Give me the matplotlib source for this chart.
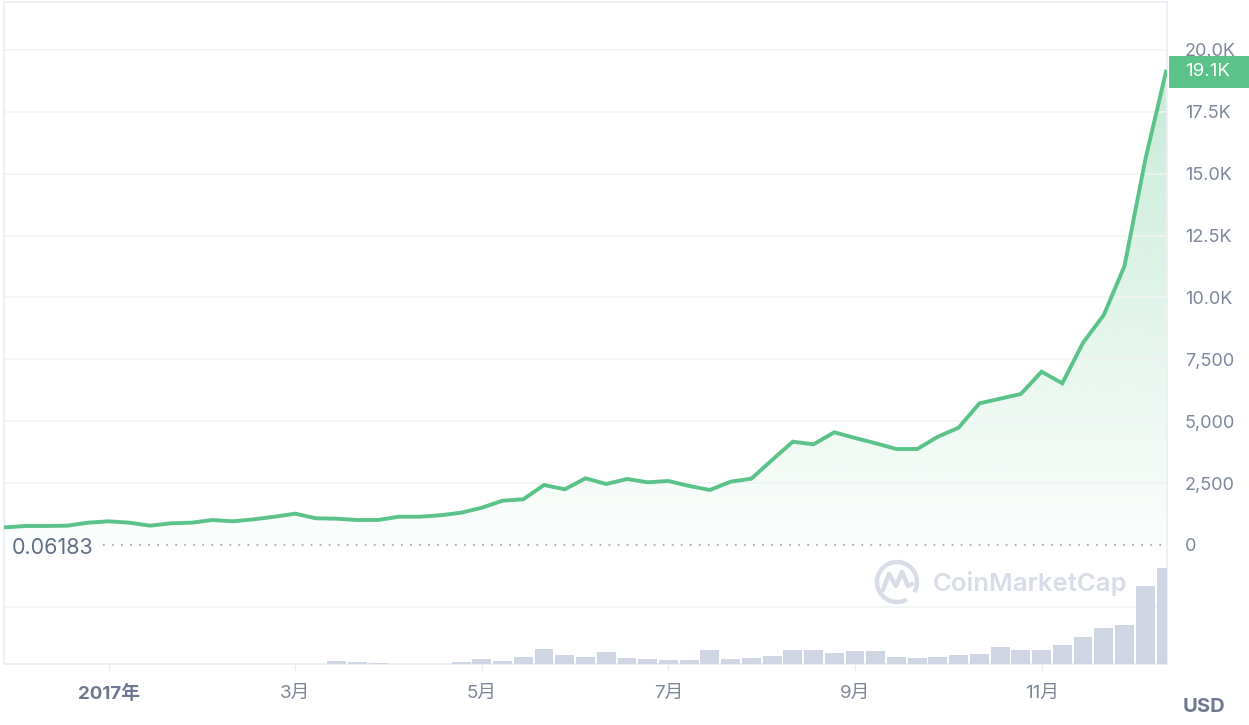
import numpy as np
import matplotlib
matplotlib.use("Agg")
import matplotlib.pyplot as plt
from matplotlib.patches import Rectangle, Arc
from matplotlib.ticker import FuncFormatter
import matplotlib.transforms as mtransforms

# weekly BTC price (USD)
price = [
    715, 768, 768, 780, 901, 957, 901, 780, 877, 901,
    1010, 957, 1038, 1143, 1265, 1078, 1063, 1010, 1010, 1143,
    1143, 1200, 1305, 1507, 1790, 1846, 2424, 2250, 2695, 2464,
    2666, 2533, 2586, 2384, 2222, 2557, 2679, 3434, 4173, 4068,
    4553, 4324, 4108, 3878, 3878, 4375, 4740, 5723, 5911, 6100,
    7001, 6533, 8173, 9292, 11272, 15554, 19122,
]
# weekly volume, relative units (no scale shown on the chart)
volume = [
    0, 0, 0, 0, 0, 0, 0, 0, 0, 0,
    0, 0, 0, 0, 0, 0, 3, 2, 1, 0,
    0, 0, 2, 4.8, 3, 6.7, 14.7, 9.2, 6.7, 12,
    5.7, 4.8, 4, 4, 14, 4.8, 5.7, 8.3, 14, 14,
    11.3, 13, 13, 6.7, 5.7, 6.7, 9.3, 10.3, 16.7, 14,
    14, 19.3, 26.7, 36.3, 39.3, 78.3, 96.3,
]
x_labels = ["2017年", "3月", "5月", "7月", "9月", "11月"]
price_ticks = [-2500, 0, 2500, 5000, 7500, 10000, 12500, 15000, 17500, 20000]
low_label = "0.06183"
last_label = "19.1K"

GREEN = "#5BC389"
GRID = "#F1F3F6"
BORDER = "#E9ECF1"
TEXT = "#7D879B"
CJK = ["Inter", "Noto Sans CJK SC", "DejaVu Sans"]

plt.rcParams["font.family"] = CJK

fig = plt.figure(figsize=(12.49, 7.25), dpi=100)
W, H = 1249, 725
left, right, top, bottom = 4, 1167, 2, 664
rect = [left / W, 1 - bottom / H, (right - left) / W, (bottom - top) / H]
ax = fig.add_axes(rect)

x = np.arange(len(price))

# price line with a vertical green gradient underneath
fb = ax.fill_between(x, price, 0, facecolor="none", edgecolor="none")
grad = np.linspace(0.02, 0.34, 256)[:, None]
rgba = np.zeros((256, 1, 4))
rgba[..., :3] = matplotlib.colors.to_rgb(GREEN)
rgba[..., 3] = grad
im = ax.imshow(rgba, extent=(0, len(price) - 1, 0, max(price)), origin="lower",
               aspect="auto", zorder=1, interpolation="bilinear")
im.set_clip_path(fb.get_paths()[0], ax.transData)
ax.plot(x, price, color=GREEN, lw=2.8, zorder=3, solid_joinstyle="miter")
ax.set_xlim(-0.05, len(price) - 0.95)
ax.set_ylim(-4808, 21937)


def fmt(v, pos):
    if v < 0:
        return ""
    if v >= 10000:
        return f"{v / 1000:.1f}K"
    return f"{v:,.0f}"


ax.set_yticks(price_ticks)
ax.yaxis.set_major_formatter(FuncFormatter(fmt))
ax.yaxis.tick_right()
ax.tick_params(axis="y", length=0, pad=13, labelsize=13, labelcolor=TEXT)
ax.grid(axis="y", color=GRID, lw=1.2, zorder=0)
ax.get_ygridlines()[1].set_visible(False)
ax.axhline(0, xmin=0.085, xmax=1, color="#A3ABBB", lw=1.3,
           linestyle=(0, (1, 4)), zorder=2)

ax.set_xticks(range(5, len(price), 9))
ax.set_xticklabels(x_labels)
ax.tick_params(axis="x", length=5, width=1, color=BORDER, pad=10,
               labelsize=13.5, labelcolor=TEXT)
xt = ax.get_xticklabels()
xt[0].set_fontweight("bold")
xt[0].set_color("#6F7890")
for s in ax.spines.values():
    s.set_color(BORDER)
    s.set_linewidth(1.2)

ax.annotate(low_label, xy=(0.0069, 0), xycoords=("axes fraction", "data"),
            xytext=(0, -2.5), textcoords="offset points", va="center",
            ha="left", fontsize=15.5, color="#616E85")

# last price tag
blend = mtransforms.blended_transform_factory(ax.transAxes, ax.transData)
ax.add_patch(Rectangle((1.0017, price[-1] - 646), 0.07, 1292, transform=blend,
                       facecolor=GREEN, edgecolor="none", clip_on=False, zorder=5))
ax.text(1.0155, price[-1], last_label, transform=blend, ha="left", va="center",
        color="white", fontsize=13.5, zorder=6, clip_on=False)

# volume bars on their own scale
axv = fig.add_axes(rect, sharex=ax, frameon=False)
axv.bar(x, volume, width=0.91, color="#CFD5E3", zorder=2)
axv.set_ylim(0, 662)
axv.axis("off")

# watermark
wm = fig.add_axes([0, 0, 1, 1], frameon=False)
wm.set_xlim(0, W)
wm.set_ylim(H, 0)
wm.axis("off")
wm.add_patch(Arc((897, 582), 40, 40, theta1=-300, theta2=30, color="#D7DCE6", lw=3.2))
wm.plot([883, 889, 896, 902, 908, 912], [590, 574, 586, 572, 586, 584],
        color="#D7DCE6", lw=3.2, solid_capstyle="round", solid_joinstyle="round")
wm.text(933, 584, "CoinMarketCap", fontsize=18.5, fontweight="semibold",
        color="#D7DCE6", va="center", ha="left")
wm.set_zorder(0.5)

fig.text(1204 / W, 1 - 707 / H, "USD", ha="center", va="center",
         fontsize=14.5, fontweight="bold", color="#6F7890")

fig.savefig("out.png", dpi=100, facecolor="white")
